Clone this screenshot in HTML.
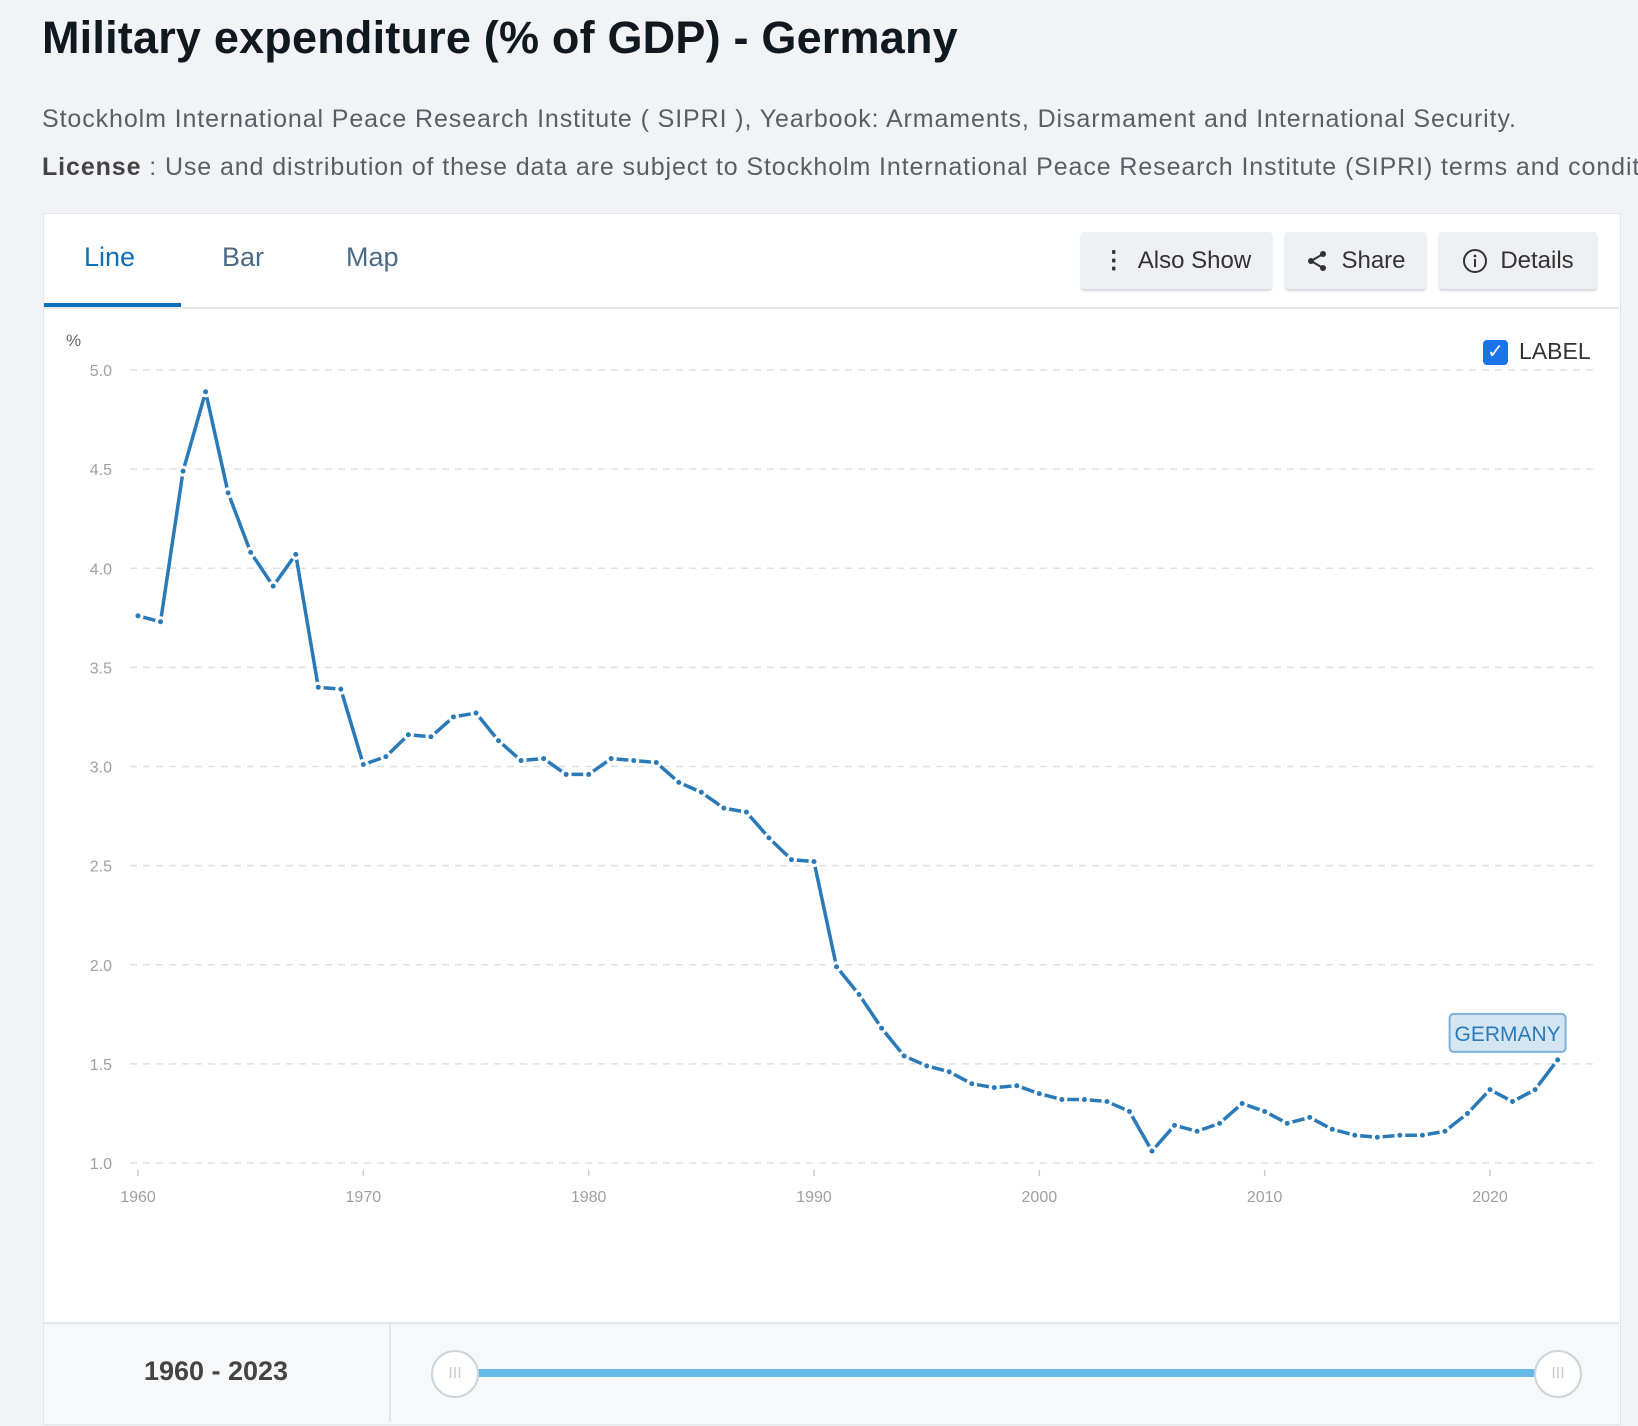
<!DOCTYPE html>
<html><head><meta charset="utf-8"><style>
body{margin:0;width:1638px;height:1426px;background:#f1f3f6;font-family:"Liberation Sans",sans-serif;position:relative;overflow:hidden}
.abs{position:absolute}
h1{position:absolute;left:42px;top:12px;margin:0;font-size:45px;font-weight:bold;color:#101820;letter-spacing:0.2px;white-space:nowrap}
.sub{left:42px;font-size:25px;letter-spacing:0.9px;color:#5a5f66;white-space:nowrap}
.panel{left:43px;top:213px;width:1576px;height:1210px;background:#fff;border:1px solid #e3e6ea}
.tab{top:242px;font-size:27px;color:#4a6a86}
.btn{top:232px;height:57px;background:#eef0f3;border-radius:3px;box-shadow:0 2px 2px #d4d8dd;font-size:24px;color:#333;display:flex;align-items:center;justify-content:center;gap:12px}
</style></head><body>
<h1>Military expenditure (% of GDP) - Germany</h1>
<div class="abs sub" style="top:105px">Stockholm International Peace Research Institute ( SIPRI ), Yearbook: Armaments, Disarmament and International Security.</div>
<div class="abs sub" style="top:153px"><b style="color:#444">License</b> : Use and distribution of these data are subject to Stockholm International Peace Research Institute (SIPRI) terms and conditions.</div>
<div class="abs panel"></div>
<div class="abs" style="left:44px;top:307px;width:1575px;height:2px;background:#e6e9ec"></div>
<div class="abs tab" style="left:84px;color:#0d6fba">Line</div>
<div class="abs" style="left:44px;top:303px;width:137px;height:4px;background:#0d6fba"></div>
<div class="abs tab" style="left:222px">Bar</div>
<div class="abs tab" style="left:346px">Map</div>
<div class="abs btn" style="left:1081px;width:191px"><span style="font-weight:bold">⋮</span>Also Show</div>
<div class="abs btn" style="left:1285px;width:141px"><svg width="24" height="24" viewBox="0 0 24 24"><circle cx="18" cy="5" r="3" fill="#333"/><circle cx="6" cy="12" r="3" fill="#333"/><circle cx="18" cy="19" r="3" fill="#333"/><path d="M6 12L18 5M6 12L18 19" stroke="#333" stroke-width="2"/></svg>Share</div>
<div class="abs btn" style="left:1439px;width:158px"><svg width="26" height="26" viewBox="0 0 26 26"><circle cx="13" cy="13" r="11" fill="none" stroke="#333" stroke-width="2"/><rect x="12" y="11" width="2" height="8" fill="#333"/><circle cx="13" cy="8" r="1.4" fill="#333"/></svg>Details</div>
<div class="abs" style="left:1483px;top:340px;width:25px;height:25px;background:#1a73e8;border-radius:4px;color:#fff;font-size:20px;text-align:center;line-height:25px">✓</div>
<div class="abs" style="left:1519px;top:338px;font-size:23px;color:#333">LABEL</div>
<svg class="abs" style="left:0;top:0" width="1638" height="1426" id="chart"></svg>
<div class="abs" style="left:44px;top:1322px;width:1575px;height:100px;background:#f7f8fa;border-top:2px solid #e3e6ea"></div>
<div class="abs" style="left:389px;top:1324px;width:2px;height:98px;background:#e3e6ea"></div>
<div class="abs" style="left:100px;top:1356px;width:232px;text-align:center;font-size:27px;font-weight:bold;color:#444">1960 - 2023</div>
<div class="abs" style="left:453px;top:1369px;width:1103px;height:8px;background:#69b8ea"></div>
<div class="abs" style="left:431px;top:1350px;width:44px;height:44px;border-radius:50%;background:#fff;border:2px solid #ccd4dc;color:#ccc;text-align:center;line-height:44px;font-size:16px">III</div>
<div class="abs" style="left:1534px;top:1350px;width:44px;height:44px;border-radius:50%;background:#fff;border:2px solid #ccd4dc;color:#ccc;text-align:center;line-height:44px;font-size:16px">III</div>
<script>
const years=[];for(let y=1960;y<=2023;y++)years.push(y);
const values=[3.76,3.73,4.49,4.89,4.38,4.08,3.91,4.07,3.40,3.39,3.01,3.05,3.16,3.15,3.25,3.27,3.13,3.03,3.04,2.96,2.96,3.04,3.03,3.02,2.92,2.87,2.79,2.77,2.64,2.53,2.52,1.99,1.85,1.68,1.54,1.49,1.46,1.40,1.38,1.39,1.35,1.32,1.32,1.31,1.26,1.06,1.19,1.16,1.20,1.30,1.26,1.20,1.23,1.17,1.14,1.13,1.14,1.14,1.16,1.25,1.37,1.31,1.37,1.52];
const yTicks=[1.0,1.5,2.0,2.5,3.0,3.5,4.0,4.5,5.0];
const xTicks=[1960,1970,1980,1990,2000,2010,2020];
const seriesLabel="GERMANY";
const NS="http://www.w3.org/2000/svg",svg=document.getElementById('chart');
const X=y=>138+(y-1960)*(1490-138)/60, Y=v=>1163-(v-1)*(1163-370)/4;
function mk(t,a,p){const e=document.createElementNS(NS,t);for(const k in a)e.setAttribute(k,a[k]);(p||svg).appendChild(e);return e;}
yTicks.forEach(v=>{
 const l=mk('line',{x1:130,x2:1598,y1:Y(v),y2:Y(v),stroke:'#e0e0e0','stroke-width':1.5,'stroke-dasharray':'7 6'});
 
 
 const t=mk('text',{x:112,y:Y(v)+6,'text-anchor':'end','font-size':16,fill:'#a0a0a0','font-family':'Liberation Sans'});t.textContent=v.toFixed(1);
 
 
});
const pc=mk('text',{x:66,y:346,'font-size':17,fill:'#666','font-family':'Liberation Sans'});pc.textContent='%';


xTicks.forEach(y=>{
 mk('line',{x1:X(y),x2:X(y),y1:1170,y2:1176,stroke:'#ccc','stroke-width':1.5});
 const t=mk('text',{x:X(y),y:1202,'text-anchor':'middle','font-size':16,fill:'#a0a0a0','font-family':'Liberation Sans'});t.textContent=y;
 
 
});
const pts=years.map((y,i)=>X(y)+','+Y(values[i])).join(' ');
const pl=mk('polyline',{points:pts,fill:'none',stroke:'#2a7ab8','stroke-width':3.5,'stroke-linejoin':'round'});


years.forEach((y,i)=>{
 const c=mk('circle',{cx:X(y),cy:Y(values[i]),r:4,fill:'#2a7ab8',stroke:'#fff','stroke-width':3});
 
 
});
const lx=X(2023),ly=Y(values[values.length-1]);
const r=mk('rect',{x:lx-108,y:ly-46,width:116,height:38,rx:4,fill:'#d4e5f3',stroke:'#7fb0d8','stroke-width':2});


const lt=mk('text',{x:lx-50,y:ly-19,'text-anchor':'middle','font-size':21,fill:'#2a7ab8','font-family':'Liberation Sans'});lt.textContent=seriesLabel;


</script>
</body></html>
